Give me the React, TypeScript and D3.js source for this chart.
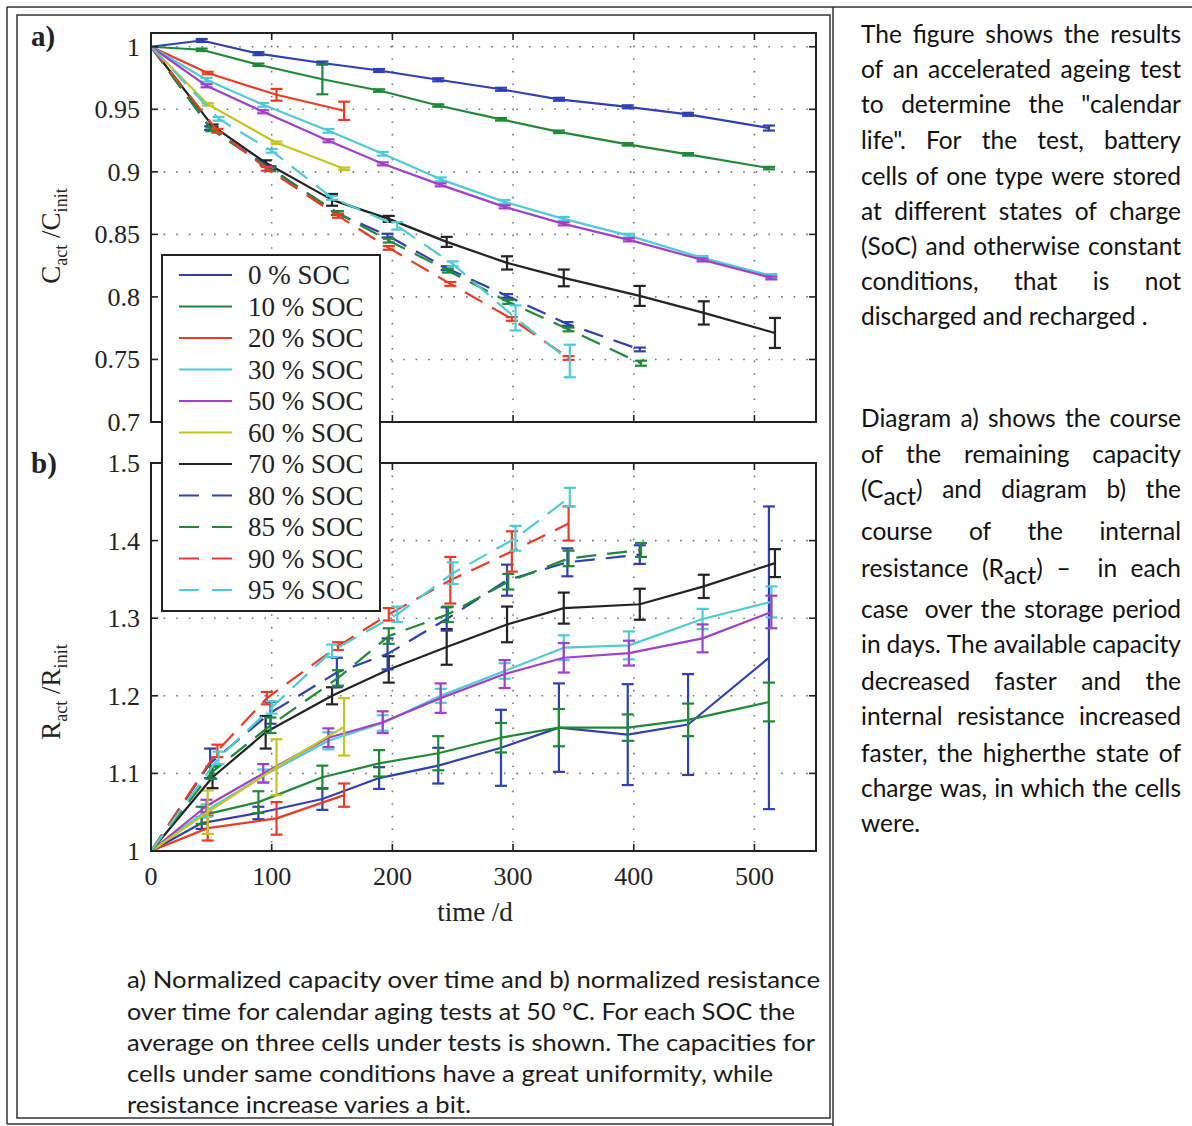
import React from "react";
import * as d3 from "d3";

// ---- series meta ----
const socLabels = ["0 % SOC", "10 % SOC", "20 % SOC", "30 % SOC", "50 % SOC", "60 % SOC", "70 % SOC", "80 % SOC", "85 % SOC", "90 % SOC", "95 % SOC"];
const socColors = ["#2e40b4", "#1f8a36", "#ec3b25", "#4ecbd3", "#a03fcb", "#c6c41e", "#232323", "#2e40b4", "#1f8a36", "#ec3b25", "#4ecbd3"];
const socDashed = [false, false, false, false, false, false, false, true, true, true, true];

// ---- storage days per series ----
const days0 = [0, 42, 89, 142, 189, 238, 290, 338, 395, 445, 512];
const days10 = [0, 42, 89, 142, 189, 238, 290, 338, 395, 445, 512];
const days20 = [0, 47, 104, 160];
const days30 = [0, 46, 93, 147, 192, 240, 293, 342, 396, 457, 514];
const days50 = [0, 46, 93, 147, 192, 240, 293, 342, 396, 457, 514];
const days60 = [0, 47, 104, 160];
const days70 = [0, 51, 95, 150, 197, 245, 295, 342, 405, 458, 517];
const days80 = [0, 49, 99, 154, 196, 245, 295, 345, 405];
const days85 = [0, 50, 99, 155, 197, 246, 296, 346, 406];
const days90 = [0, 55, 96, 155, 197, 248, 299, 346];
const days95 = [0, 56, 100, 150, 204, 250, 302, 347];

// ---- a) normalized capacity ----
const cap0 = [1, 1.005, 0.9945, 0.987, 0.981, 0.9736, 0.966, 0.958, 0.952, 0.946, 0.935];
const cap10 = [1, 0.9976, 0.9856, 0.974, 0.965, 0.953, 0.942, 0.932, 0.922, 0.914, 0.903];
const cap20 = [1, 0.979, 0.9616, 0.9488];
const cap30 = [1, 0.9736, 0.9536, 0.9328, 0.9144, 0.894, 0.876, 0.8624, 0.849, 0.8312, 0.8168];
const cap50 = [1, 0.9688, 0.948, 0.9248, 0.9064, 0.8896, 0.872, 0.8584, 0.8456, 0.8296, 0.8152];
const cap60 = [1, 0.954, 0.9232, 0.9024];
const cap70 = [1, 0.9368, 0.9072, 0.8776, 0.8624, 0.844, 0.8272, 0.8152, 0.8008, 0.7872, 0.7712];
const cap80 = [1, 0.935, 0.903, 0.867, 0.849, 0.823, 0.8008, 0.7784, 0.758];
const cap85 = [1, 0.934, 0.902, 0.867, 0.845, 0.821, 0.796, 0.774, 0.747];
const cap90 = [1, 0.9328, 0.9024, 0.8648, 0.8392, 0.8104, 0.7824, 0.7512];
const cap95 = [1, 0.9424, 0.9168, 0.8792, 0.8568, 0.8264, 0.7832, 0.7488];

const capErr0 = [0, 0.0012, 0.0012, 0.0012, 0.0012, 0.0012, 0.0012, 0.0012, 0.0012, 0.0012, 0.002];
const capErr10 = [0, 0.001, 0.001, 0.012, 0.001, 0.001, 0.001, 0.001, 0.001, 0.001, 0.001];
const capErr20 = [0, 0.001, 0.0047, 0.0073];
const capErr30 = [0, 0.0015, 0.0015, 0.0015, 0.0015, 0.0015, 0.0015, 0.0015, 0.0015, 0.0015, 0.0015];
const capErr50 = [0, 0.0012, 0.0012, 0.0012, 0.0012, 0.0012, 0.0012, 0.0012, 0.0012, 0.0012, 0.0012];
const capErr60 = [0, 0.001, 0.001, 0.001];
const capErr70 = [0, 0.001, 0.002, 0.0047, 0.0024, 0.004, 0.0053, 0.0067, 0.008, 0.0093, 0.012];
const capErr80 = [0, 0.0015, 0.0015, 0.0015, 0.0015, 0.0015, 0.0015, 0.0015, 0.0015];
const capErr85 = [0, 0.0015, 0.0015, 0.0015, 0.0015, 0.0015, 0.0015, 0.0015, 0.002];
const capErr90 = [0, 0.0015, 0.0015, 0.0015, 0.0015, 0.0015, 0.0015, 0.0015];
const capErr95 = [0, 0.0015, 0.0015, 0.0015, 0.003, 0.002, 0.01, 0.013];

// ---- b) normalized resistance ----
const res0 = [1, 1.036, 1.049, 1.067, 1.094, 1.11, 1.133, 1.159, 1.15, 1.163, 1.249];
const res10 = [1, 1.046, 1.063, 1.095, 1.113, 1.126, 1.146, 1.159, 1.159, 1.169, 1.192];
const res20 = [1, 1.0295, 1.042, 1.072];
const res30 = [1, 1.052, 1.097, 1.142, 1.165, 1.2, 1.232, 1.262, 1.265, 1.299, 1.321];
const res50 = [1, 1.058, 1.1, 1.146, 1.166, 1.197, 1.228, 1.249, 1.255, 1.274, 1.308];
const res60 = [1, 1.05, 1.108, 1.16];
const res70 = [1, 1.095, 1.153, 1.2, 1.234, 1.263, 1.292, 1.313, 1.318, 1.341, 1.371];
const res80 = [1, 1.113, 1.178, 1.23, 1.254, 1.299, 1.349, 1.372, 1.382];
const res85 = [1, 1.101, 1.162, 1.223, 1.277, 1.305, 1.347, 1.377, 1.388];
const res90 = [1, 1.129, 1.197, 1.264, 1.305, 1.349, 1.386, 1.422];
const res95 = [1, 1.12, 1.185, 1.258, 1.305, 1.358, 1.403, 1.456];

const resErr0 = [0, 0.0075, 0.008, 0.014, 0.014, 0.023, 0.049, 0.057, 0.065, 0.065, 0.195];
const resErr10 = [0, 0.011, 0.014, 0.015, 0.017, 0.022, 0.019, 0.024, 0.017, 0.021, 0.025];
const resErr20 = [0, 0.016, 0.021, 0.015];
const resErr30 = [0, 0.008, 0.008, 0.011, 0.01, 0.009, 0.01, 0.016, 0.018, 0.013, 0.02];
const resErr50 = [0, 0.008, 0.012, 0.012, 0.014, 0.019, 0.018, 0.019, 0.016, 0.018, 0.021];
const resErr60 = [0, 0.028, 0.036, 0.037];
const resErr70 = [0, 0.014, 0.021, 0.011, 0.017, 0.023, 0.023, 0.02, 0.02, 0.015, 0.018];
const resErr80 = [0, 0.019, 0.014, 0.019, 0.02, 0.015, 0.02, 0.018, 0.012];
const resErr85 = [0, 0.008, 0.01, 0.01, 0.01, 0.01, 0.01, 0.01, 0.009];
const resErr90 = [0, 0.008, 0.008, 0.005, 0.008, 0.03, 0.026, 0.022];
const resErr95 = [0, 0.008, 0.008, 0.008, 0.01, 0.014, 0.016, 0.012];

// ---- ticks ----
const xTicks = [0, 100, 200, 300, 400, 500];
const xTickLabels = ["0", "100", "200", "300", "400", "500"];
const capTicks = [0.7, 0.75, 0.8, 0.85, 0.9, 0.95, 1];
const capTickLabels = ["0.7", "0.75", "0.8", "0.85", "0.9", "0.95", "1"];
const resTicks = [1, 1.1, 1.2, 1.3, 1.4, 1.5];
const resTickLabels = ["1", "1.1", "1.2", "1.3", "1.4", "1.5"];

// ---- side text ----
const sideParagraph1 = [
    "The figure shows the results",
    "of an accelerated ageing test",
    'to determine the "calendar',
    'life". For the test, battery',
    "cells of one type were stored",
    "at different states of charge",
    "(SoC) and otherwise constant",
    "conditions, that is not",
    "discharged and recharged .",
];
const sideParagraph2 = [
    "Diagram a) shows the course",
    "of the remaining capacity",
    "(C_{act}) and diagram b) the",
    "course of the internal",
    "resistance (R_{act}) –  in each",
    "case  over the storage period",
    "in days. The available capacity",
    "decreased faster and the",
    "internal resistance increased",
    "faster, the higherthe state of",
    "charge was, in which the cells",
    "were.",
];
const captionLines = [
    "a) Normalized capacity over time and b) normalized resistance",
    "over time for calendar aging tests at 50 °C. For each SOC the",
    "average on three cells under tests is shown. The capacities for",
    "cells under same conditions have a great uniformity, while",
    "resistance increase varies a bit.",
];

const dayList = [days0, days10, days20, days30, days50, days60, days70, days80, days85, days90, days95];
const capList = [cap0, cap10, cap20, cap30, cap50, cap60, cap70, cap80, cap85, cap90, cap95];
const capErrList = [capErr0, capErr10, capErr20, capErr30, capErr50, capErr60, capErr70, capErr80, capErr85, capErr90, capErr95];
const resList = [res0, res10, res20, res30, res50, res60, res70, res80, res85, res90, res95];
const resErrList = [resErr0, resErr10, resErr20, resErr30, resErr50, resErr60, resErr70, resErr80, resErr85, resErr90, resErr95];

const SERIF = "'Liberation Serif', 'Times New Roman', serif";
const SANS = "Lato, 'Open Sans', sans-serif";

const plotLeft = 151;
const plotRight = 816;
const xScale = d3.scaleLinear().domain([0, 551]).range([plotLeft, plotRight]);
const capY = d3.scaleLinear().domain([0.7, 1.011]).range([422, 33]);
const resY = d3.scaleLinear().domain([1, 1.5]).range([851, 463]);

type Pt = { d: number; v: number; e: number };

function buildSeries(vals: number[][], errs: number[][]) {
    return vals.map((arr, i) =>
        arr.map((v, j) => ({ d: dayList[i][j], v, e: errs[i][j] } as Pt)),
    );
}

const Panel: React.FC<{
    y: d3.ScaleLinear<number, number>;
    ticks: number[];
    labels: string[];
    data: Pt[][];
    xLabels: boolean;
}> = ({ y, ticks, labels, data, xLabels }) => {
    const [y0, y1] = y.range();
    const top = Math.min(y0, y1);
    const bottom = Math.max(y0, y1);
    const lineGen = d3
        .line<Pt>()
        .x(p => xScale(p.d))
        .y(p => y(p.v));
    const cap = 6;
    return (
        <g>
            {/* dotted grid */}
            {xTicks.slice(1).map(t => (
                <line key={"gx" + t} x1={xScale(t)} x2={xScale(t)} y1={top} y2={bottom}
                    stroke="#777" strokeWidth={1.6} strokeDasharray="1.6,11" />
            ))}
            {ticks.map(t =>
                y(t) > top + 1 && y(t) < bottom - 1 ? (
                    <line key={"gy" + t} x1={plotLeft} x2={plotRight} y1={y(t)} y2={y(t)}
                        stroke="#777" strokeWidth={1.6} strokeDasharray="1.6,11" />
                ) : null,
            )}
            {/* series */}
            {data.map((pts, i) => (
                <g key={"s" + i} stroke={socColors[i]} fill="none">
                    <path d={lineGen(pts) || ""} strokeWidth={2.2}
                        strokeDasharray={socDashed[i] ? "20,11" : undefined}
                        strokeLinejoin="round" />
                    {pts.filter(p => p.e > 0).map((p, k) => {
                        const cx = xScale(p.d);
                        const ya = y(p.v - p.e);
                        const yb = y(p.v + p.e);
                        return (
                            <g key={k} strokeWidth={2.2}>
                                <line x1={cx} x2={cx} y1={ya} y2={yb} />
                                <line x1={cx - cap} x2={cx + cap} y1={ya} y2={ya} />
                                <line x1={cx - cap} x2={cx + cap} y1={yb} y2={yb} />
                            </g>
                        );
                    })}
                </g>
            ))}
            {/* frame & ticks */}
            <rect x={plotLeft} y={top} width={plotRight - plotLeft} height={bottom - top}
                fill="none" stroke="#222" strokeWidth={2} />
            {xTicks.map(t => (
                <g key={"tx" + t} stroke="#222" strokeWidth={1.6}>
                    <line x1={xScale(t)} x2={xScale(t)} y1={bottom} y2={bottom - 7} />
                    <line x1={xScale(t)} x2={xScale(t)} y1={top} y2={top + 7} />
                </g>
            ))}
            {ticks.map((t, i) => (
                <g key={"ty" + t}>
                    <line x1={plotLeft} x2={plotLeft + 7} y1={y(t)} y2={y(t)} stroke="#222" strokeWidth={1.6} />
                    <line x1={plotRight} x2={plotRight - 7} y1={y(t)} y2={y(t)} stroke="#222" strokeWidth={1.6} />
                    <text x={140} y={y(t) + 9} textAnchor="end" fontFamily={SERIF} fontSize={26} fill="#222">
                        {labels[i]}
                    </text>
                </g>
            ))}
            {xLabels &&
                xTicks.map((t, i) => (
                    <text key={"lx" + t} x={xScale(t)} y={bottom + 34} textAnchor="middle"
                        fontFamily={SERIF} fontSize={26} fill="#222">
                        {xTickLabels[i]}
                    </text>
                ))}
        </g>
    );
};

let measureCtx: CanvasRenderingContext2D | null = null;
function textWidth(s: string, size: number) {
    if (!measureCtx) measureCtx = document.createElement("canvas").getContext("2d");
    if (!measureCtx) return s.length * size * 0.5;
    measureCtx.font = `${size}px Lato`;
    return measureCtx.measureText(s).width;
}

function parseWord(w: string) {
    return w
        .split(/(_\{[^}]*\})/)
        .filter(s => s !== "")
        .map(s => (s.startsWith("_{") ? { t: s.slice(2, -1), sub: true } : { t: s, sub: false }));
}

const SIDE_SIZE = 24.5;

const SideLine: React.FC<{ text: string; y: number; justify: boolean }> = ({ text, y, justify }) => {
    const size = SIDE_SIZE;
    const left = 861;
    const width = 320;
    const words = text.split(" ").map(parseWord);
    const widths = words.map(segs => segs.reduce((a, s) => a + textWidth(s.t, size), 0));
    const total = widths.reduce((a, b) => a + b, 0);
    const gaps = words.length - 1;
    let gap = textWidth(" ", size);
    if (justify && gaps > 0) gap = (width - total) / gaps;
    if (gap < 3) {
        return (
            <text x={left} y={y} fontFamily={SANS} fontSize={size} fill="#111"
                textLength={width} lengthAdjust="spacingAndGlyphs">
                {text.replace(/_\{([^}]*)\}/g, "$1").replace(/  +/g, " ")}
            </text>
        );
    }
    let x = left;
    return (
        <g>
            {words.map((segs, i) => {
                const px = x;
                x += widths[i] + gap;
                if (segs.length === 0) return null;
                let shifted = false;
                return (
                    <text key={i} x={px} y={y} fontFamily={SANS} fontSize={size} fill="#111">
                        {segs.map((s, k) => {
                            let dy = 0;
                            if (s.sub && !shifted) { dy = 7; shifted = true; }
                            else if (!s.sub && shifted) { dy = -7; shifted = false; }
                            return <tspan key={k} dy={dy}>{s.t}</tspan>;
                        })}
                    </text>
                );
            })}
        </g>
    );
};

const para1Y = [43, 78, 113, 149, 185, 220, 255, 290, 325];
const para2Y = [427, 463, 498, 540, 577, 618, 653, 690, 725, 762, 797, 832];
const captionY = [988, 1020, 1051, 1082, 1113];
const captionW = [693, 668, 688, 646, 344];

const App: React.FC = () => {
    const capData = buildSeries(capList, capErrList);
    const resData = buildSeries(resList, resErrList);
    const legendTop = 275;
    const legendStep = 31.5;
    return (
        <div style={{ position: "absolute", left: 0, top: 0 }}>
            <svg width={1192} height={1126} style={{ display: "block", background: "#fff" }}>
                <rect width={1192} height={1126} fill="#fff" />
                {/* table borders */}
                <g stroke="#333" strokeWidth={1.5} fill="none">
                    <line x1={7} x2={1192} y1={7} y2={7} />
                    <line x1={7} x2={7} y1={7} y2={1124} />
                    <line x1={7} x2={833} y1={1124} y2={1124} />
                    <line x1={833} x2={833} y1={7} y2={1126} />
                    <rect x={17} y={15} width={813} height={1103} />
                </g>

                <Panel y={capY} ticks={capTicks} labels={capTickLabels} data={capData} xLabels={false} />
                <Panel y={resY} ticks={resTicks} labels={resTickLabels} data={resData} xLabels={true} />

                {/* panel letters */}
                <text x={31} y={46} fontFamily={SERIF} fontSize={29} fontWeight="bold" fill="#222">a)</text>
                <text x={31} y={473} fontFamily={SERIF} fontSize={29} fontWeight="bold" fill="#222">b)</text>

                {/* axis labels */}
                <text transform="translate(60,236) rotate(-90)" textAnchor="middle" fontFamily={SERIF} fontSize={27} fill="#222">
                    C<tspan fontSize={18} dy={7}>act</tspan><tspan dy={-7}> /C</tspan><tspan fontSize={18} dy={7}>init</tspan>
                </text>
                <text transform="translate(60,692) rotate(-90)" textAnchor="middle" fontFamily={SERIF} fontSize={27} fill="#222">
                    R<tspan fontSize={18} dy={7}>act</tspan><tspan dy={-7}> /R</tspan><tspan fontSize={18} dy={7}>init</tspan>
                </text>
                <text x={475} y={921} textAnchor="middle" fontFamily={SERIF} fontSize={27} fill="#222">time /d</text>

                {/* legend */}
                <rect x={162} y={255} width={218} height={356} fill="#fff" stroke="#222" strokeWidth={2} />
                {socLabels.map((lab, i) => {
                    const ly = legendTop + i * legendStep;
                    return (
                        <g key={lab}>
                            <line x1={179} x2={232} y1={ly} y2={ly} stroke={socColors[i]} strokeWidth={2.2}
                                strokeDasharray={socDashed[i] ? "20,13" : undefined} />
                            <text x={248} y={ly + 9} fontFamily={SERIF} fontSize={27} fill="#222">{lab}</text>
                        </g>
                    );
                })}

                {/* caption */}
                {captionLines.map((t, i) => (
                    <text key={"c" + i} x={127} y={captionY[i]} fontFamily={SANS} fontSize={22.5} fill="#1a1a1a"
                        textLength={captionW[i]} lengthAdjust="spacingAndGlyphs">
                        {t}
                    </text>
                ))}

                {/* side description */}
                {sideParagraph1.map((t, i) => (
                    <SideLine key={"p1" + i} text={t} y={para1Y[i]} justify={i < sideParagraph1.length - 1} />
                ))}
                {sideParagraph2.map((t, i) => (
                    <SideLine key={"p2" + i} text={t} y={para2Y[i]} justify={i < sideParagraph2.length - 1} />
                ))}
            </svg>
        </div>
    );
};

export default App;
